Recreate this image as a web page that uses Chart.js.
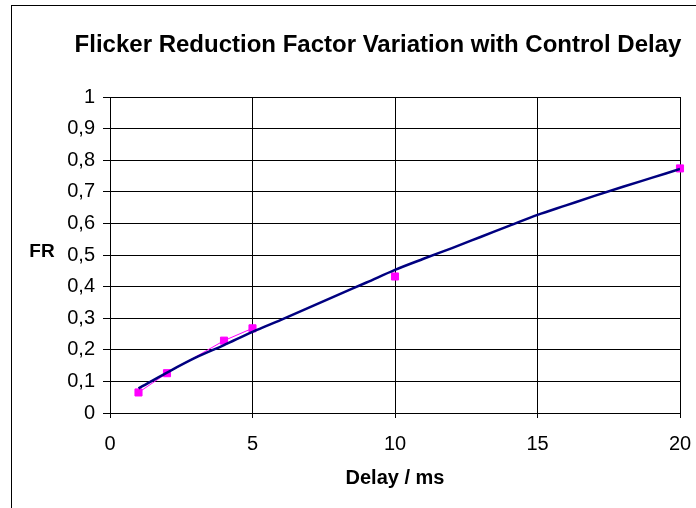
<!DOCTYPE html>
<html>
<head>
<meta charset="utf-8">
<script src="https://cdn.jsdelivr.net/npm/chart.js@4"></script>
<style>
  html, body { margin: 0; padding: 0; background: #fff; overflow: hidden; }
  #wrap { position: relative; width: 696px; height: 508px; overflow: hidden; }
  #frame { position: absolute; left: 11px; top: 5px; width: 800px; height: 600px; border: 1px solid #000; }
  canvas { position: absolute; left: 0; top: 0; }
</style>
</head>
<body>
<div id="wrap">
  <div id="frame"></div>
  <canvas id="chart" width="696" height="508"></canvas>
</div>
<script>
// Measured points (delay in ms, FR)
const delays = [1, 2, 4, 5, 10, 20];
const frMeasured = [0.065, 0.126, 0.229, 0.268, 0.432, 0.774];
// Whether the measured point i is joined to point i+1 (gaps in the sheet)
const joined = [true, true, true, false, false];

// Trend curve
const trendDelays = [1, 2, 3, 4, 5, 6, 7, 8, 9, 10, 11, 12, 13, 14, 15, 16, 17, 18, 19, 20];
const trendFR = [0.078, 0.128, 0.175, 0.215, 0.257, 0.295, 0.334, 0.374, 0.413, 0.453,
                 0.488, 0.522, 0.557, 0.592, 0.627, 0.657, 0.687, 0.716, 0.744, 0.772];

const xTickLabels = ["0", "5", "10", "15", "20"];
const yTickLabels = ["0", "0,1", "0,2", "0,3", "0,4", "0,5", "0,6", "0,7", "0,8", "0,9", "1"];

const chartTitle = "Flicker Reduction Factor Variation with Control Delay";
const yTitle = "FR";
const xTitle = "Delay / ms";

const FONT = "'Liberation Sans', Arial, sans-serif";

// Draws the chart title and the horizontal y axis title (Excel style)
const excelLabels = {
  id: "excelLabels",
  afterDraw(chart) {
    const ctx = chart.ctx;
    const area = chart.chartArea;
    ctx.save();
    ctx.fillStyle = "#000";
    ctx.textAlign = "center";
    ctx.textBaseline = "middle";
    ctx.font = "bold 24px " + FONT;
    ctx.fillText(chartTitle, 378, 45);
    ctx.font = "bold 19px " + FONT;
    ctx.fillText(yTitle, 42, (area.top + area.bottom) / 2 - 3);
    ctx.restore();
  },
};

const ctx = document.getElementById("chart").getContext("2d");
const chart = new Chart(ctx, {
  type: "scatter",
  data: {
    datasets: [
      {
        label: "Trend",
        data: trendDelays.map((d, i) => ({ x: d, y: trendFR[i] })),
        showLine: true,
        borderColor: "#000080",
        borderWidth: 2.5,
        pointRadius: 0,
        cubicInterpolationMode: "monotone",
        order: 0,
      },
      {
        label: "FR",
        data: delays.map((d, i) => ({ x: d, y: frMeasured[i] })),
        showLine: true,
        clip: false,
        borderColor: "#ff00ff",
        backgroundColor: "#ff00ff",
        borderWidth: 1,
        segment: {
          borderColor: (c) => (joined[c.p0DataIndex] ? "#ff00ff" : "rgba(0,0,0,0)"),
        },
        pointStyle: "rect",
        pointRadius: 5,
        pointBorderWidth: 1,
        pointBorderColor: "#ff00ff",
        pointBackgroundColor: "#ff00ff",
        order: 1,
      },
    ],
  },
  options: {
    responsive: false,
    animation: false,
    layout: {
      padding: { top: 97, left: 0, right: 16, bottom: 0 },
    },
    plugins: {
      legend: { display: false },
      title: { display: false },
      tooltip: { enabled: false },
    },
    scales: {
      x: {
        type: "linear",
        min: 0,
        max: 20,
        afterFit: (scale) => {
          scale.height = 95;
          scale.paddingLeft = 0;
          scale.paddingRight = 0;
        },
        ticks: {
          stepSize: 5,
          color: "#000",
          font: { family: FONT, size: 20 },
          padding: 14,
          maxRotation: 0,
          callback: (value, index) => xTickLabels[index],
        },
        grid: { color: "#000", lineWidth: 1, tickLength: 5 },
        border: { color: "#000", width: 1 },
        title: {
          display: true,
          text: xTitle,
          color: "#000",
          font: { family: FONT, size: 20, weight: "bold" },
          padding: { top: 0, bottom: 18 },
        },
      },
      y: {
        min: 0,
        max: 1,
        afterFit: (scale) => {
          scale.width = 110;
          scale.paddingTop = 0;
          scale.paddingBottom = 0;
        },
        ticks: {
          stepSize: 0.1,
          color: "#000",
          font: { family: FONT, size: 20 },
          padding: 8,
          callback: (value, index) => yTickLabels[index],
        },
        grid: { color: "#000", lineWidth: 1, tickLength: 7 },
        border: { color: "#000", width: 1 },
      },
    },
  },
  plugins: [excelLabels],
});
</script>
</body>
</html>
